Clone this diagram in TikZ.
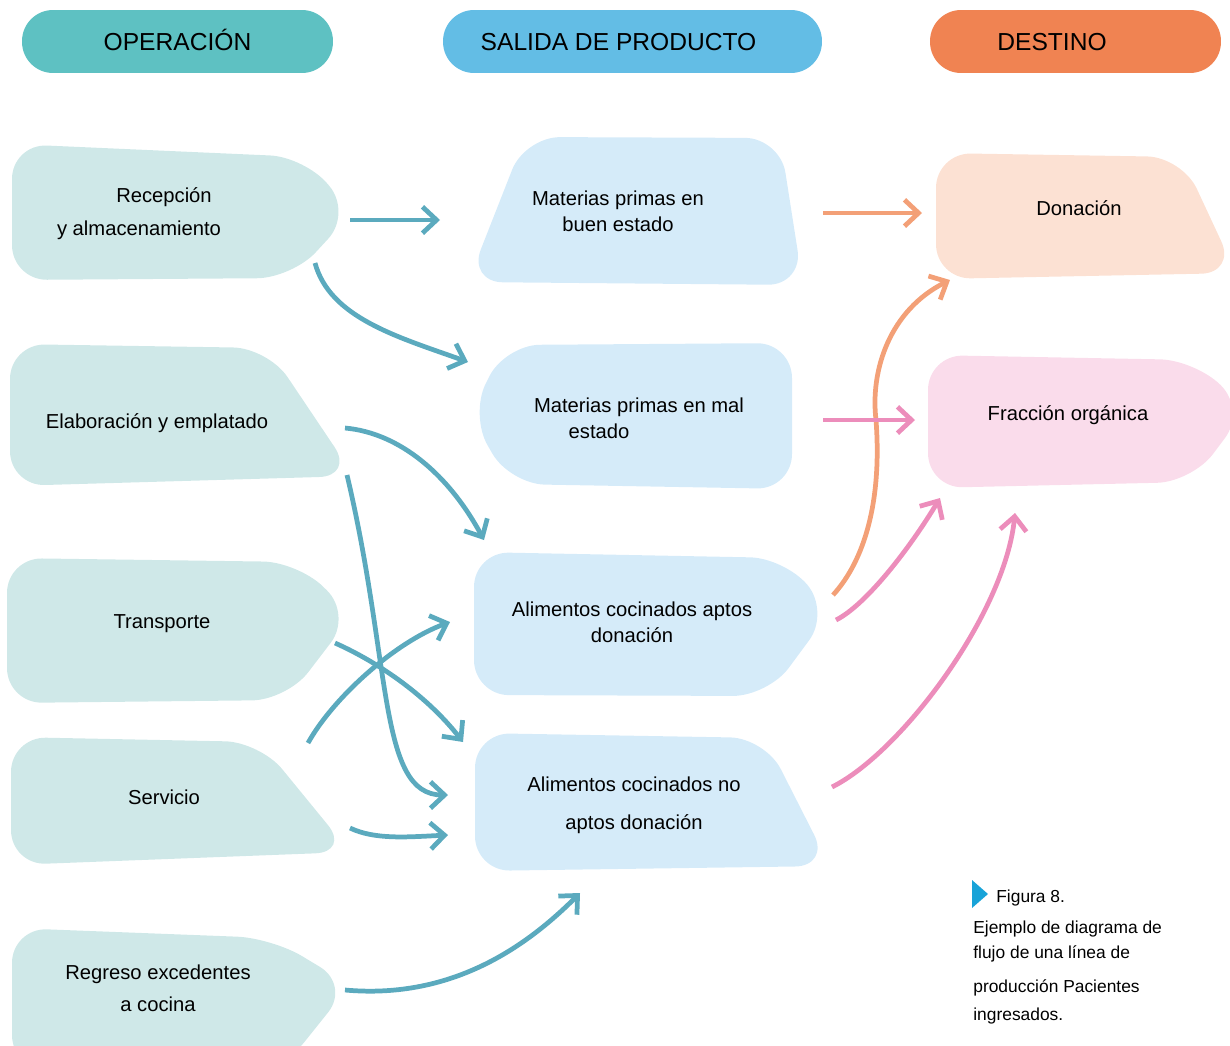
\documentclass[tikz,border=0pt]{standalone}
\usepackage{fontspec}
\setmainfont{Liberation Sans}
\usepackage{tikz}
\usetikzlibrary{calc, arrows.meta, backgrounds}
\definecolor{ophead}{HTML}{5EC1C2}
\definecolor{salhead}{HTML}{63BDE5}
\definecolor{deshead}{HTML}{F08352}
\definecolor{opfill}{HTML}{CFE8E8}
\definecolor{salfill}{HTML}{D5EBF9}
\definecolor{donfill}{HTML}{FCE1D3}
\definecolor{frafill}{HTML}{FADCEB}
\definecolor{tealarr}{HTML}{5BAABE}
\definecolor{orarr}{HTML}{F3A077}
\definecolor{pkarr}{HTML}{EC8DBB}
\definecolor{capblue}{HTML}{18A3D8}
\tikzstyle{head}=[rounded corners=0.62cm, minimum height=1.26cm, inner sep=0pt, text height=10pt, text depth=0pt, font=\fontsize{14}{16}\selectfont]
\tikzstyle{blobtxt}=[align=center, inner sep=0pt, font=\fontsize{11.5}{14.8}\selectfont]
\tikzstyle{blob}=[rounded corners=0.7cm]
\tikzstyle{flow}=[->, line width=2.7pt]
\tikzset{>={Straight Barb[length=8pt, width=15pt]}}

\begin{document}
\begin{tikzpicture}[x=0.02cm, y=-0.02cm]
\useasboundingbox (0,0) rectangle (1230,1045);
% the headers
\node[head, fill=ophead, minimum width=6.22cm] (hop) at (177.5,41.5) {OPERACIÓN};
\node[head, fill=salhead, minimum width=7.58cm] (hsal) at (632.5,41.5) {SALIDA DE PRODUCTO\hspace*{0.56cm}};
\node[head, fill=deshead, minimum width=5.82cm] (hdes) at (1075.5,41.5) {DESTINO\hspace*{0.94cm}};
% the blobs
\begin{scope}[on background layer]
\fill[blob, opfill] (12,144) -- (305,157) -- (352,213) -- (292,278) -- (12,280) -- cycle;
\fill[blob, opfill] (10,344) -- (268,348) -- (354,476) -- (10,486) -- cycle;
\fill[blob, opfill] (7,558) -- (298,562) -- (352,615) -- (287,700) -- (7,703) -- cycle;
\fill[blob, opfill] (11,737) -- (260,742) -- (350,852) -- (11,865) -- cycle;
\fill[blob, opfill] (12,928) -- (272,938) -- (350,985) -- (282,1070) -- (12,1070) -- cycle;
\fill[blob, salfill] (525,137) -- (780,138) -- (803,285) -- (468,282) -- cycle;
\fill[blob, salfill] (505,345) -- (792,343) -- (792,489) -- (510,484) -- (470,415) -- cycle;
\fill[blob, salfill] (474,552) -- (785,558) -- (830,612) -- (768,696) -- (474,695) -- cycle;
\fill[blob, salfill] (475,733) -- (765,738) -- (830,866) -- (475,871) -- cycle;
\fill[blob, donfill] (936,153) -- (1182,157) -- (1236,273) -- (936,279) -- cycle;
\fill[blob, frafill] (928,355) -- (1195,360) -- (1246,410) -- (1192,482) -- (928,488) -- cycle;
\end{scope}
% the operations
\node[blobtxt] (rec) at (139,214) {\hspace*{1cm}Recepción\\[4pt]y almacenamiento};
\node[blobtxt] (ela) at (157,423) {Elaboración y emplatado};
\node[blobtxt] (tra) at (162,624) {Transporte};
\node[blobtxt] (ser) at (164,797) {Servicio};
\node[blobtxt] (reg) at (158,988) {Regreso excedentes\\[3.4pt]a cocina};
% the outputs
\node[blobtxt] (buen) at (618,211) {Materias primas en\\buen estado};
\node[blobtxt] (mal) at (639,418) {Materias primas en mal\\estado\hspace*{1.6cm}};
\node[blobtxt] (apt) at (632,622) {Alimentos cocinados aptos\\donación};
\node[blobtxt] (noapt) at (634,805) {Alimentos cocinados no\\[6.8pt]aptos donación};
% the destinations
\node[blobtxt] (don) at (1079,208) {Donación};
\node[blobtxt] (fra) at (1068,415) {Fracción orgánica};
% the caption
\fill[capblue] (972,880) -- (988,894) -- (972,908) -- cycle;
\node[anchor=west, inner sep=0pt, font=\fontsize{9.9}{14.2}\selectfont] (fig) at (996,898) {Figura 8.};
\node[anchor=north west, inner sep=0pt, align=left, font=\fontsize{9.9}{14.2}\selectfont] (cap) at (973,921)
  {Ejemplo de diagrama de\\flujo de una línea de\\[5.1pt]producción Pacientes\\[1.7pt]ingresados.};
% the teal flows
\draw[flow, tealarr] ($(rec)+(211,6)$) -- ($(buen)+(-178,9)$);
\draw[flow, tealarr] ($(rec)+(176,49)$) .. controls +(15,55) and +(-70,-25) .. ($(mal)+(-171,-56)$);
\draw[flow, tealarr] ($(ela)+(188,5)$) .. controls +(55,5) and +(-35,-65) .. ($(apt)+(-148,-82)$);
\draw[flow, tealarr] ($(ela)+(190,52)$) .. controls +(45,190) and +(-70,0) .. ($(noapt)+(-186,-10)$);
\draw[flow, tealarr] ($(tra)+(173,19)$) .. controls +(45,20) and +(-35,-45) .. ($(noapt)+(-171,-63)$);
\draw[flow, tealarr] ($(ser)+(144,-54)$) .. controls +(25,-45) and +(-55,20) .. ($(apt)+(-182,0)$);
\draw[flow, tealarr] ($(ser)+(186,31)$) .. controls +(25,12) and +(-40,2) .. ($(noapt)+(-186,30)$);
\draw[flow, tealarr] ($(reg)+(187,2)$) .. controls +(110,10) and +(-50,50) .. ($(noapt)+(-54,88)$);
% the orange flows
\draw[flow, orarr] ($(buen)+(205,2)$) -- ($(don)+(-157,5)$);
\draw[flow, orarr] ($(apt)+(201,-27)$) .. controls +(32,-35) and +(6,80) .. (876,420)
  .. controls +(-6,-50) and +(-60,30) .. ($(don)+(-129,72)$);
% the pink flows
\draw[flow, pkarr] ($(mal)+(184,2)$) -- ($(fra)+(-153,5)$);
\draw[flow, pkarr] ($(apt)+(204,-2)$) .. controls +(30,-15) and +(-30,50) .. ($(fra)+(-128,83)$);
\draw[flow, pkarr] ($(noapt)+(198,-18)$) .. controls +(70,-35) and +(-10,100) .. ($(fra)+(-53,98)$);
\end{tikzpicture}
\end{document}
